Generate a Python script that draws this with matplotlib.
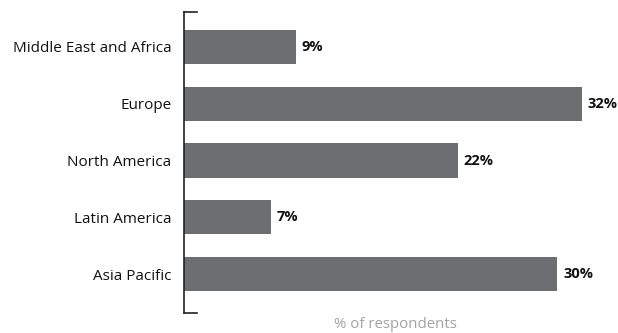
import matplotlib.pyplot as plt

regions = ["Middle East and Africa", "Europe", "North America", "Latin America", "Asia Pacific"]
shares = [9, 32, 22, 7, 30]

plt.rcParams['font.family'] = ['Open Sans', 'DejaVu Sans']

fig = plt.figure(figsize=(6.18, 3.33), dpi=100)
ax = fig.add_axes([184 / 618, 20 / 333, 422 / 618, 301 / 333])

ypos = list(range(len(regions)))
ax.barh(ypos, shares, height=0.6, color='#6d6e71')
for y, v in zip(ypos, shares):
    ax.text(v + 0.45, y, f"{v}%", va='center', ha='left', fontsize=10.5,
            fontweight='bold', color='#111111')

ax.set_xlim(0, 33.9)
ax.set_ylim(4.68, -0.61)
ax.set_yticks(ypos)
ax.set_yticklabels(regions, fontsize=11, color='#111111')
ax.tick_params(axis='y', length=0, pad=9)
ax.set_xticks([])

for s in ['top', 'right', 'bottom']:
    ax.spines[s].set_visible(False)
ax.spines['left'].set_color('#222222')
ax.spines['left'].set_linewidth(1.2)
# short caps at both ends of the axis line
ax.plot([0, 0.03], [1, 1], transform=ax.transAxes, color='#222222', lw=1.2, clip_on=False)
ax.plot([0, 0.03], [0, 0], transform=ax.transAxes, color='#222222', lw=1.2, clip_on=False)

ax.set_xlabel("% of respondents", fontsize=10.8, color='#a3a3a3', labelpad=3)

fig.savefig("out.png", dpi=100)
